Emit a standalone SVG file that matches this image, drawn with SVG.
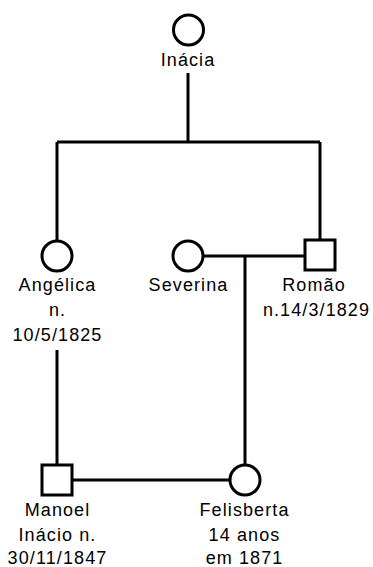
<svg xmlns="http://www.w3.org/2000/svg" width="373" height="567" viewBox="0 0 373 567">
  <style>
    .ln { stroke: #000; stroke-width: 3; fill: none; }
    .sym { stroke: #000; stroke-width: 3; fill: #fff; }
    .lbl { font-family: "Liberation Sans", Arial, sans-serif; font-size: 18px; letter-spacing: 1.1px; fill: #000; text-anchor: middle; }
  </style>
  <rect width="373" height="567" fill="#fff"/>

  <!-- lines of descent and marriage -->
  <g id="connectors">
    <path class="ln" d="M188 73 V142"/>
    <path class="ln" d="M57 142 H320"/>
    <path class="ln" d="M57 142 V241"/>
    <path class="ln" d="M320 142 V240"/>
    <path class="ln" d="M203 256 H305"/>
    <path class="ln" d="M245 256 V465"/>
    <path class="ln" d="M57 350 V465"/>
    <path class="ln" d="M72 480 H230"/>
  </g>

  <g id="inacia">
    <circle class="sym" cx="188.5" cy="30" r="15"/>
    <text class="lbl" x="188" y="66">Inácia</text>
  </g>

  <g id="angelica">
    <circle class="sym" cx="57" cy="256" r="15"/>
    <text class="lbl" x="57.5" y="291">Angélica</text>
    <text class="lbl" x="57.5" y="316">n.</text>
    <text class="lbl" x="57.5" y="341">10/5/1825</text>
  </g>

  <g id="severina">
    <circle class="sym" cx="188" cy="256" r="15"/>
    <text class="lbl" x="188.5" y="291">Severina</text>
  </g>

  <g id="romao">
    <rect class="sym" x="305" y="240" width="30" height="30"/>
    <text class="lbl" x="314" y="291">Romão</text>
    <text class="lbl" x="316.5" y="316">n.14/3/1829</text>
  </g>

  <g id="manoel">
    <rect class="sym" x="42" y="465" width="30" height="30"/>
    <text class="lbl" x="57.5" y="516">Manoel</text>
    <text class="lbl" x="57.5" y="541">Inácio n.</text>
    <text class="lbl" x="57.5" y="564">30/11/1847</text>
  </g>

  <g id="felisberta">
    <circle class="sym" cx="245" cy="480" r="15"/>
    <text class="lbl" x="244.5" y="516">Felisberta</text>
    <text class="lbl" x="244.5" y="541">14 anos</text>
    <text class="lbl" x="244.5" y="564">em 1871</text>
  </g>
</svg>
